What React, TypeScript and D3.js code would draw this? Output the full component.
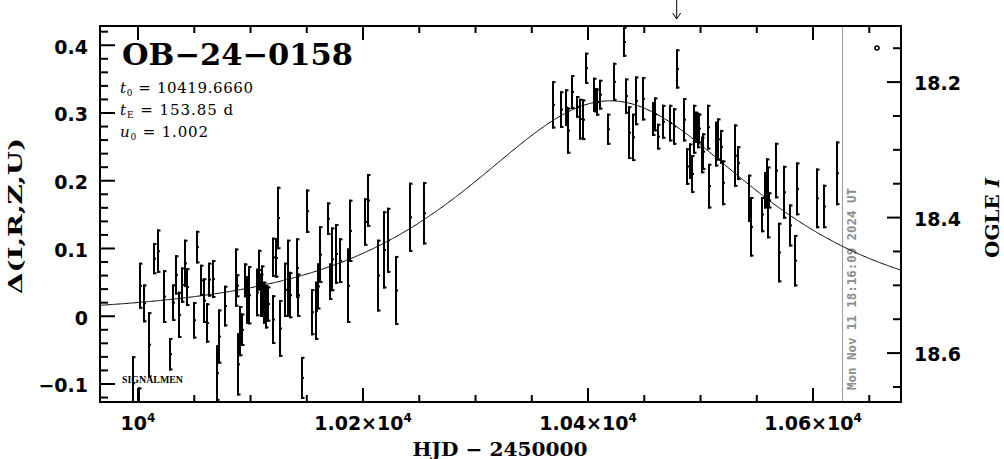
import React from 'react';
import { scaleLinear, line, range } from 'd3';

// photometry: HJD - 2450000, delta mag, error
const days = [
  9995.8, 10000.9, 10001.8, 10005.6, 10009.8, 10014.5, 10017.5, 10023.4, 10028.4, 10031.4,
  10033.8, 10036.4, 10039.4, 10041.8, 10043.8, 10049.8, 10052.7, 10056.0, 10058.9, 10061.1,
  10063.1, 10066.9, 10069.8, 10071.6, 10077.3, 10087.1, 10088.3, 10089.2, 10090.7, 10092.7,
  10095.1, 10096.6, 10098.9, 10105.5, 10107.3, 10109.1, 10110.5, 10112.0, 10113.8, 10115.3,
  10120.3, 10120.3, 10122.4, 10124.7, 10126.2, 10130.7, 10133.6,
  10132.9, 10135.1, 10141.6, 10142.2, 10145.5, 10150.0, 10154.4, 10158.2, 10159.7, 10161.8,
  10169.2, 10170.7, 10172.2, 10175.7, 10179.6, 10186.4, 10188.4, 10201.8, 10204.7, 10213.6,
  10218.9, 10222.5, 10229.1, 10241.8, 10254.2,
  10369.2, 10376.0, 10380.2, 10382.5, 10385.5, 10390.0, 10392.9, 10395.8, 10398.2, 10405.3,
  10406.5, 10407.7, 10410.7, 10418.0, 10423.1, 10432.0, 10433.8, 10436.7, 10440.3, 10442.7,
  10448.6, 10458.0, 10459.6, 10462.5,
  10478.8, 10466.9, 10472.9, 10476.4, 10485.6, 10487.7, 10490.7, 10492.7, 10494.5, 10496.0,
  10497.5, 10498.9, 10501.1, 10502.5, 10506.9, 10507.8, 10513.8, 10515.8, 10518.0, 10520.3,
  10530.7, 10533.6, 10543.4, 10544.9, 10554.4, 10557.3, 10558.8, 10560.3, 10561.2, 10567.1,
  10570.0, 10574.5, 10579.6, 10584.3, 10585.5, 10603.8, 10609.8, 10621.6,
];
const deltas = [
  -0.099, -0.135, 0.045, 0.019, -0.042, 0.085, 0.096, 0.029, -0.056, 0.020,
  0.061, 0.002, 0.046, 0.078, 0.043, -0.006, 0.102, 0.053, 0.023, -0.010,
  0.054, 0.055, -0.084, -0.030, 0.015, 0.057, 0.045, -0.071, -0.022, -0.020,
  0.053, 0.024, 0.031, 0.035, 0.068, 0.031, 0.037, 0.020, 0.014, 0.018,
  0.087, -0.005, 0.086, 0.145, -0.018, 0.039, 0.035,
  0.056, 0.031, 0.071, 0.031, -0.091, 0.155, 0.006, 0.008, 0.044, 0.091,
  0.144, 0.051, 0.084, 0.092, 0.082, 0.045, 0.126, 0.139, 0.171, 0.060,
  0.098, 0.112, 0.038, 0.146, 0.152,
  0.312, 0.305, 0.308, 0.274, 0.331, 0.309, 0.291, 0.290, 0.366, 0.327,
  0.319, 0.316, 0.327, 0.276, 0.346, 0.405, 0.325, 0.271, 0.264, 0.318,
  0.321, 0.291, 0.298, 0.265,
  0.365, 0.287, 0.285, 0.280, 0.290, 0.221, 0.229, 0.210, 0.276, 0.279,
  0.274, 0.277, 0.238, 0.243, 0.279, 0.192, 0.254, 0.261, 0.250, 0.197,
  0.237, 0.226, 0.174, 0.132, 0.150, 0.186, 0.197, 0.168, 0.171, 0.215,
  0.094, 0.183, 0.134, 0.082, 0.188, 0.174, 0.162, 0.211,
];
const errs = [
  0.040, 0.030, 0.034, 0.028, 0.048, 0.023, 0.032, 0.039, 0.024, 0.027,
  0.029, 0.034, 0.026, 0.035, 0.028, 0.027, 0.024, 0.023, 0.033, 0.029,
  0.025, 0.028, 0.041, 0.040, 0.030, 0.043, 0.017, 0.046, 0.037, 0.024,
  0.025, 0.035, 0.043, 0.035, 0.030, 0.032, 0.038, 0.031, 0.032, 0.026,
  0.029, 0.036, 0.029, 0.046, 0.042, 0.040, 0.031,
  0.057, 0.034, 0.044, 0.032, 0.031, 0.032, 0.034, 0.043, 0.034, 0.042,
  0.024, 0.027, 0.047, 0.044, 0.033, 0.055, 0.046, 0.035, 0.039, 0.053,
  0.057, 0.048, 0.051, 0.051, 0.046,
  0.035, 0.027, 0.027, 0.034, 0.025, 0.016, 0.030, 0.030, 0.023, 0.025,
  0.018, 0.020, 0.022, 0.023, 0.028, 0.022, 0.026, 0.039, 0.035, 0.036,
  0.032, 0.025, 0.025, 0.019,
  0.029, 0.025, 0.027, 0.027, 0.032, 0.027, 0.026, 0.028, 0.036, 0.023,
  0.026, 0.022, 0.027, 0.027, 0.033, 0.033, 0.033, 0.031, 0.025, 0.033,
  0.046, 0.025, 0.035, 0.044, 0.026, 0.027, 0.036, 0.053, 0.012, 0.041,
  0.044, 0.039, 0.031, 0.038, 0.039, 0.044, 0.032, 0.047,
];

// model parameters
const t0 = 10419.666;
const tE = 153.85;
const u0 = 1.002;
const baseMag = 18.5456;

const deltaTicks = [-0.1, 0, 0.1, 0.2, 0.3, 0.4];
const deltaTickLabels = ['\u22120.1', '0', '0.1', '0.2', '0.3', '0.4'];
const magTicks = [18.2, 18.4, 18.6];
const magTickLabels = ['18.2', '18.4', '18.6'];
const hjdTicks = [10000, 10200, 10400, 10600];
const hjdTickMantissa = ['', '1.02', '1.04', '1.06'];
const nowDay = 10626.26; // Mon Nov 11 18:16:09 2024 UT
const arrowDay = 10478.8;

const left = 100, right = 901, top = 26, bottom = 402;

const x = scaleLinear().domain([9966.2, 10678.2]).range([left, right]);
const y = scaleLinear().domain([-0.1266, 0.4284]).range([bottom, top]);
const mag = scaleLinear()
  .domain([baseMag + 0.1266, baseMag - 0.4284])
  .range([bottom, top]);

const [xMin, xMax] = x.domain();
const xMinor = range(9950, 10701, 50).filter(d => d > xMin && d < xMax && !hjdTicks.includes(d));
const yMinor = range(-12, 43, 2).map(v => v / 100).filter(v => Math.abs(v * 10 - Math.round(v * 10)) > 1e-6);
const magMinor = range(1810, 1870, 5).map(v => v / 100)
  .filter(m => m > baseMag - 0.4284 && m < baseMag + 0.1266 && !magTicks.some(t => Math.abs(t - m) < 1e-6));

function magnification(t: number) {
  const tau = (t - t0) / tE;
  const u2 = u0 * u0 + tau * tau;
  const u = Math.sqrt(u2);
  return (u2 + 2) / (u * Math.sqrt(u2 + 4));
}

const modelDays = range(xMin, xMax + 0.5, 1);
const modelPath = line<number>()
  .x(d => x(d))
  .y(d => y(2.5 * Math.log10(magnification(d))))(modelDays);

const sans = 'DejaVu Sans';
const serif = 'DejaVu Serif';

export default function App() {
  return (
    <div style={{ position: 'fixed', left: 0, top: 0, background: '#fff' }}>
      <svg width={1004} height={459} style={{ display: 'block' }}>
        <rect width={1004} height={459} fill="#fff" />
        <defs>
          <clipPath id="plot">
            <rect x={left} y={top} width={right - left} height={bottom - top} />
          </clipPath>
        </defs>

        {/* now line */}
        <line x1={x(nowDay)} x2={x(nowDay)} y1={top} y2={bottom} stroke="#999" strokeWidth={1} />
        <text
          transform={`translate(${x(nowDay) + 13},${bottom - 12}) rotate(-90)`}
          fontFamily="DejaVu Sans Mono" fontWeight="bold" fontSize={12.4} fill="#8c8c8c"
          textLength={202} lengthAdjust="spacingAndGlyphs"
        >Mon Nov 11 18:16:09 2024 UT</text>

        <g clipPath="url(#plot)">
          <path d={modelPath || ''} fill="none" stroke="#000" strokeWidth={1} />
          {days.map((d, i) => {
            const cx = Math.round(x(d));
            const y1 = y(deltas[i] + errs[i]);
            const y2 = y(deltas[i] - errs[i]);
            return (
              <g key={i} stroke="#000" strokeWidth={2}>
                <line x1={cx} x2={cx} y1={y1} y2={y2} />
                <line x1={cx - 1} x2={cx + 2.5} y1={y1 + 1} y2={y1 + 1} />
                <line x1={cx - 1} x2={cx + 2.5} y1={y2 - 1} y2={y2 - 1} />
                <rect x={cx} y={y(deltas[i]) - 1} width={2} height={2} stroke="none" fill="#000" />
              </g>
            );
          })}
        </g>

        {/* frame */}
        <rect x={left} y={top} width={right - left} height={bottom - top} fill="none" stroke="#000" strokeWidth={2} />

        {/* ticks */}
        <g stroke="#000" strokeWidth={2}>
          {hjdTicks.map(d => (
            <g key={d}>
              <line x1={x(d)} x2={x(d)} y1={bottom} y2={bottom - 14} />
              <line x1={x(d)} x2={x(d)} y1={top} y2={top + 14} />
            </g>
          ))}
          {xMinor.map(d => (
            <g key={d}>
              <line x1={x(d)} x2={x(d)} y1={bottom} y2={bottom - 7} />
              <line x1={x(d)} x2={x(d)} y1={top} y2={top + 7} />
            </g>
          ))}
          {deltaTicks.map(v => (
            <line key={v} x1={left} x2={left + 15} y1={y(v)} y2={y(v)} />
          ))}
          {yMinor.map(v => (
            <line key={v} x1={left} x2={left + 8} y1={y(v)} y2={y(v)} />
          ))}
          {magTicks.map(m => (
            <line key={m} x1={right} x2={right - 14} y1={mag(m)} y2={mag(m)} />
          ))}
          {magMinor.map(m => (
            <line key={m} x1={right} x2={right - 8} y1={mag(m)} y2={mag(m)} />
          ))}
        </g>

        {/* tick labels */}
        <g fontFamily={sans} fontWeight="bold" fontSize={19} fill="#000">
          {deltaTicks.map((v, i) => (
            <text key={v} x={88} y={y(v) + 8.5} textAnchor="end">{deltaTickLabels[i]}</text>
          ))}
          {magTicks.map((m, i) => (
            <text key={m} x={914} y={mag(m) + 8} textAnchor="start">{magTickLabels[i]}</text>
          ))}
          {hjdTicks.map((d, i) => (
            <text key={d} x={x(d)} y={430} textAnchor="middle">
              {hjdTickMantissa[i] ? `${hjdTickMantissa[i]}\u00d710` : '10'}
              <tspan fontSize={12} dy={-8}>4</tspan>
            </text>
          ))}
        </g>

        {/* axis titles */}
        <text x={500} y={456} textAnchor="middle" fontFamily={serif} fontWeight="bold" fontSize={19}
          textLength={175} lengthAdjust="spacingAndGlyphs">HJD {'\u2212'} 2450000</text>
        <text transform="translate(22,216) rotate(-90)" textAnchor="middle" fontFamily={serif}
          fontWeight="bold" fontSize={19} textLength={156} lengthAdjust="spacingAndGlyphs">
          {'\u0394(I,R,Z,U)'}
        </text>
        <text transform="translate(999,218) rotate(-90)" textAnchor="middle" fontFamily={serif}
          fontWeight="bold" fontSize={18} textLength={80} lengthAdjust="spacingAndGlyphs">
          OGLE <tspan fontStyle="italic">I</tspan>
        </text>

        {/* title and parameters */}
        <text x={122} y={65} fontFamily={serif} fontWeight="bold" fontSize={30}
          textLength={231} lengthAdjust="spacingAndGlyphs">OB{'\u2212'}24{'\u2212'}0158</text>
        <g fontFamily={serif} fontSize={15} fill="#000">
          <text x={120} y={93} textLength={133} lengthAdjust="spacing">
            <tspan fontStyle="italic">t</tspan><tspan fontSize={9} dy={3}>0</tspan>
            <tspan dy={-3}>{' = 10419.6660'}</tspan>
          </text>
          <text x={120} y={115} textLength={113} lengthAdjust="spacing">
            <tspan fontStyle="italic">t</tspan><tspan fontSize={9} dy={3}>E</tspan>
            <tspan dy={-3}>{' = 153.85 d'}</tspan>
          </text>
          <text x={120} y={137} textLength={88} lengthAdjust="spacing">
            <tspan fontStyle="italic">u</tspan><tspan fontSize={9} dy={3}>0</tspan>
            <tspan dy={-3}>{' = 1.002'}</tspan>
          </text>
        </g>
        <text x={122} y={383} fontFamily="Liberation Serif" fontWeight="bold" fontSize={10}
          textLength={61} lengthAdjust="spacingAndGlyphs">SIGNALMEN</text>

        {/* marker and arrow */}
        <circle cx={877} cy={48} r={2} fill="none" stroke="#000" strokeWidth={1.6} />
        <g stroke="#000" strokeWidth={1} fill="none">
          <line x1={x(arrowDay)} x2={x(arrowDay)} y1={0} y2={19} />
          <polyline points={`${x(arrowDay) - 4},13 ${x(arrowDay)},19 ${x(arrowDay) + 4},13`} />
        </g>
      </svg>
    </div>
  );
}
